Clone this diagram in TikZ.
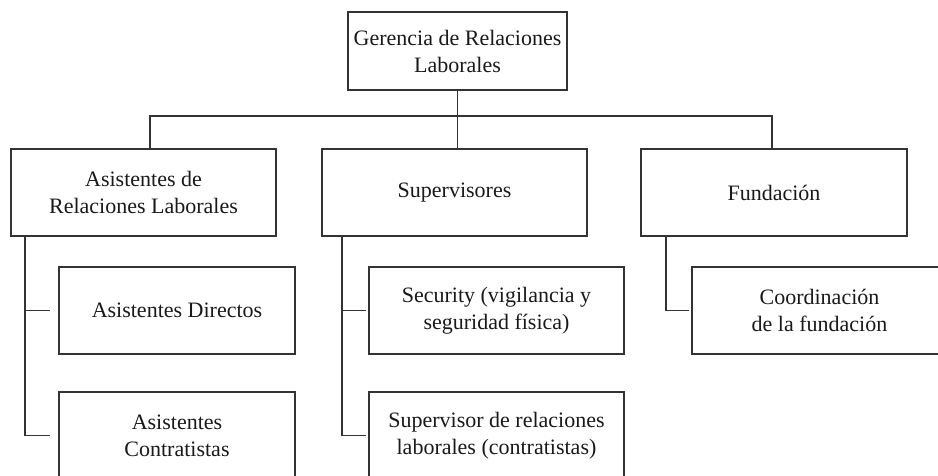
\documentclass[tikz,border=0pt]{standalone}
\usepackage{fontspec}
\setmainfont{Liberation Serif}
\usetikzlibrary{positioning}

\begin{document}
\begin{tikzpicture}[
  x=1pt, y=1pt,
  unit/.style={draw=black!80, line width=1.1pt, align=center, inner sep=2pt,
               minimum height=87pt, font=\fontsize{22}{27}\selectfont, text=black!90},
  link/.style={draw=black!80, line width=1.1pt}
]
\useasboundingbox (0,0) rectangle (938,475);
% top level
\node[unit, minimum width=219pt, minimum height=78pt] (gerencia) at (457.5,424) {Gerencia de Relaciones\\Laborales};
% second level
\node[unit, minimum width=265pt] (asistentes) at (143.5,282.5) {Asistentes de\\Relaciones Laborales};
\node[unit, minimum width=265pt] (supervisores) at (454.5,282.5) {Supervisores};
\node[unit, minimum width=266pt] (fundacion) at (774,282.5) {Fundación};
% third level
\node[unit, minimum width=236pt] (directos) at (177,164.5) {Asistentes Directos};
\node[unit, minimum width=236pt] (contratistas) at (177,39.5) {Asistentes\\Contratistas};
\node[unit, minimum width=255pt] (security) at (496.5,164.5) {Security (vigilancia y\\seguridad física)};
\node[unit, minimum width=255pt] (supervisor) at (496.5,39.5) {Supervisor de relaciones\\laborales (contratistas)};
\node[unit, minimum width=255pt] (coordinacion) at (819.5,164.5) {Coordinación\\de la fundación};
\coordinate (bus) at (0,359);
\coordinate (lspine) at (25,0);
\coordinate (mspine) at (342,0);
\coordinate (rspine) at (666,0);
\draw[link] (gerencia.south) -- (gerencia.south |- supervisores.north);
\draw[link] ([xshift=6.5pt]asistentes.north) |- ([xshift=-2pt]fundacion.north |- bus) -- ([xshift=-2pt]fundacion.north);
\draw[link, shorten >=8pt] (asistentes.south -| lspine) |- (contratistas.west);
\draw[link, shorten >=8pt] (lspine |- directos.west) -- (directos.west);
\draw[link, shorten >=2.5pt] (supervisores.south -| mspine) |- (supervisor.west);
\draw[link, shorten >=2.5pt] (mspine |- security.west) -- (security.west);
\draw[link, shorten >=2pt] (fundacion.south -| rspine) |- (coordinacion.west);
\end{tikzpicture}
\end{document}
